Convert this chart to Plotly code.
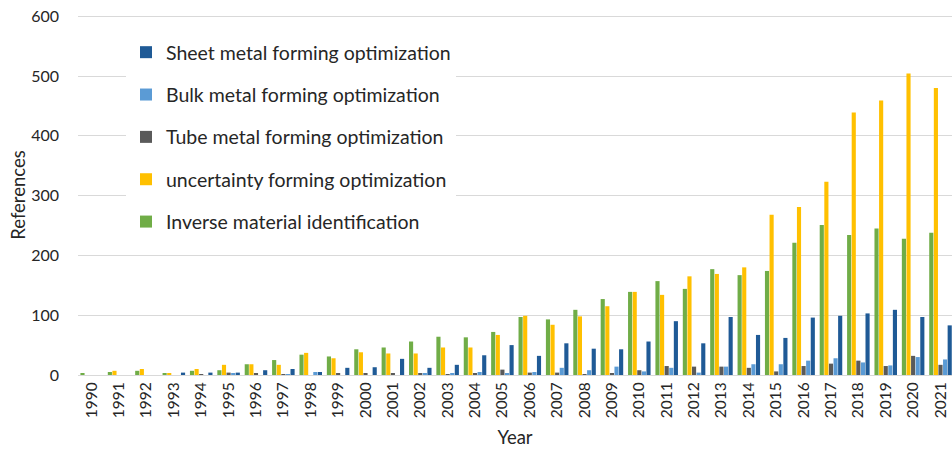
import plotly.graph_objects as go

years = [str(y) for y in range(1990, 2022)]

sheet = [0, 0, 0, 4, 4, 4, 8, 10, 5, 12, 13, 27, 12, 17, 33, 50,
         32, 53, 44, 43, 56, 90, 53, 97, 67, 62, 96, 99, 103, 109, 97, 83]
bulk = [0, 0, 0, 0, 0, 2, 0, 1, 5, 0, 0, 0, 2, 2, 5, 2,
        5, 12, 8, 14, 6, 12, 4, 14, 18, 18, 24, 28, 21, 16, 30, 26]
tube = [0, 0, 0, 0, 1, 4, 2, 1, 0, 3, 3, 3, 3, 1, 2, 9,
        4, 4, 1, 3, 8, 15, 14, 14, 12, 6, 15, 19, 24, 15, 32, 17]
uncertainty = [0, 7, 10, 3, 10, 17, 18, 17, 37, 28, 38, 36, 36, 46, 46, 67,
               99, 84, 98, 115, 139, 134, 165, 169, 180, 268, 281, 323, 439, 459, 504, 480]
inverse = [2, 5, 7, 3, 7, 8, 18, 25, 34, 31, 43, 46, 56, 64, 63, 72,
           97, 93, 109, 127, 139, 157, 144, 177, 167, 174, 221, 251, 234, 245, 228, 238]

names = ["Sheet metal forming optimization", "Bulk metal forming optimization",
         "Tube metal forming optimization", "uncertainty forming optimization",
         "Inverse material identification"]
colors = ["#1F5A96", "#5B9BD5", "#5A5A5A", "#FFC000", "#70AD47"]
series = [sheet, bulk, tube, uncertainty, inverse]

FONT = "Lato"
W, H = 952, 449
ML, MR, MT, MB = 78, 0, 15, 74
PW = W - ML - MR
PH = H - MT - MB

fig = go.Figure()
# drawn in reverse order so that the cluster reads green, yellow, gray, light blue, dark blue
for i in reversed(range(5)):
    fig.add_trace(go.Bar(
        x=years, y=series[i], name=names[i],
        marker=dict(color=colors[i], line=dict(width=0)),
        legendgroup=f"g{i}", legendrank=i + 1,
    ))

fig.update_layout(
    width=W, height=H,
    margin=dict(l=ML, r=MR, t=MT, b=MB, autoexpand=False),
    plot_bgcolor="white", paper_bgcolor="white",
    barmode="group", bargap=0.16, bargroupgap=0.1,
    font=dict(family=FONT, color="#404040"),
    legend=dict(
        x=(126 - ML) / PW, y=1 - (33 - MT) / PH, xanchor="left", yanchor="top",
        traceorder="grouped", tracegroupgap=14,
        bgcolor="white", font=dict(size=19.5, family=FONT, color="#262626"),
    ),
    showlegend=True,
)
fig.update_xaxes(
    type="category", range=[-0.5, 31.42], tickangle=-90,
    tickmode="array", tickvals=years, ticktext=years,
    tickfont=dict(size=15.5, family=FONT, color="#262626"),
    showline=True, linecolor="#d9d9d9", linewidth=1,
    ticks="", showgrid=False,
    title=dict(text="Year", font=dict(size=18.5, family=FONT, color="#262626"), standoff=13),
)
fig.update_yaxes(
    range=[0, 602], dtick=100, showgrid=True, gridcolor="#d9d9d9", gridwidth=1,
    zeroline=False, ticks="", ticklabeloverflow="allow",
    tickfont=dict(size=16, family=FONT, color="#262626"),
    ticklabelstandoff=18,
    title=dict(text="References", font=dict(size=18.5, family=FONT, color="#262626"), standoff=0),
)

fig.write_html(
    "out.html",
    config={"displayModeBar": False},
    post_script="document.body.style.margin='0';document.body.style.overflow='hidden';",
)
